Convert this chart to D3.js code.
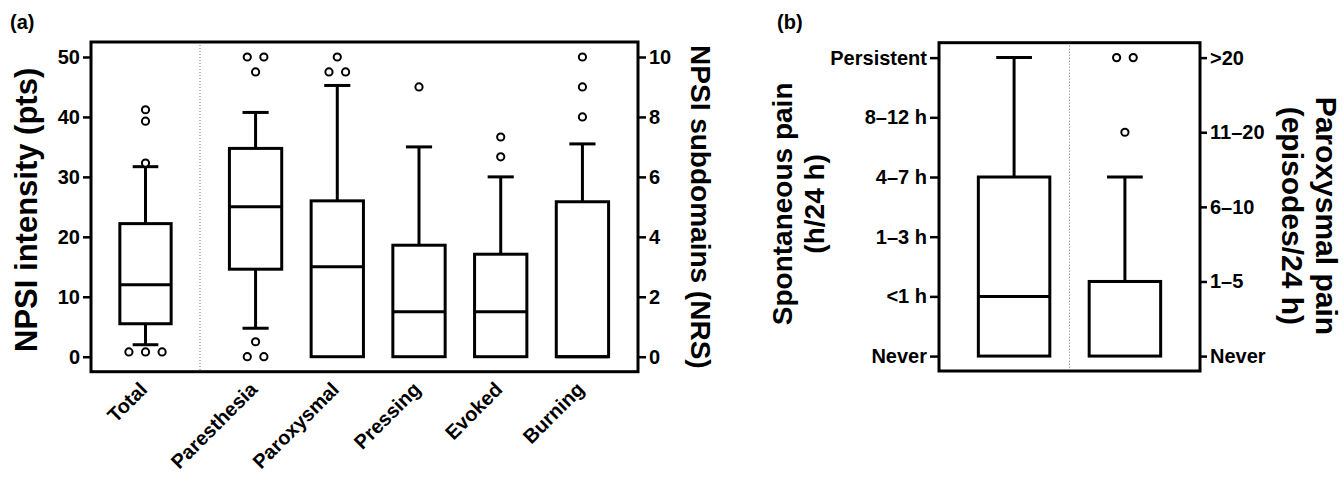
<!DOCTYPE html>
<html>
<head>
<meta charset="utf-8">
<script src="https://cdn.jsdelivr.net/npm/d3@7"></script>
<style>
  body { margin: 0; background: #fff; }
  text { font-family: "Liberation Sans", Arial, sans-serif; font-weight: bold; fill: #000; }
</style>
</head>
<body>
<script>
// panel (a): NPSI total (pts, left axis) and subdomains (NRS, right axis)
var totalCats = ["Total"];
var totalQ1 = [5.5], totalMedian = [12], totalQ3 = [22.2];
var totalWhiskerLo = [2.0], totalWhiskerHi = [31.7];
var totalOutliers = [[41.2, 39.3, 32.3, 0.8, 0.8, 0.8]];

var subCats = ["Paresthesia", "Paroxysmal", "Pressing", "Evoked", "Burning"];
var subQ1 = [2.92, 0, 0, 0, 0];
var subMedian = [5.0, 3.0, 1.5, 1.5, 0];
var subQ3 = [6.95, 5.2, 3.72, 3.42, 5.17];
var subWhiskerLo = [0.95, 0, 0, 0, 0];
var subWhiskerHi = [8.15, 9.05, 7.0, 6.0, 7.1];
var subOutliers = [[10, 10, 9.5, 0.5, 0, 0], [10, 9.5, 9.5], [9], [7.33, 6.67], [10, 9, 8]];

var ptsTicks = [0, 10, 20, 30, 40, 50];
var nrsTicks = [0, 2, 4, 6, 8, 10];

// panel (b): frequency of spontaneous and paroxysmal pain
var freqCats = ["Spontaneous", "Paroxysmal"];
var freqQ1 = [0, 0], freqMedian = [1, 1], freqQ3 = [3, 1];
var freqWhiskerLo = [0, 0], freqWhiskerHi = [5, 2.4];
var freqOutliers = [[], [4, 4, 3]];
var spontTicks = ["Never", "<1 h", "1\u20133 h", "4\u20137 h", "8\u201312 h", "Persistent"];
var paroxTicks = ["Never", "1\u20135", "6\u201310", "11\u201320", ">20"];

var width = 1343, height = 477;
var svg = d3.select("body").append("svg").attr("width", width).attr("height", height);

var lw = 3;

function drawBox(g, cx, bw, y, q1, med, q3, wlo, whi, outl) {
    var cap = bw / 2;
    // whiskers
    g.append("line").attr("x1", cx).attr("x2", cx).attr("y1", y(q3)).attr("y2", y(whi))
        .attr("stroke", "#000").attr("stroke-width", lw);
    g.append("line").attr("x1", cx - cap/2).attr("x2", cx + cap/2).attr("y1", y(whi)).attr("y2", y(whi))
        .attr("stroke", "#000").attr("stroke-width", lw);
    if (wlo < q1) {
        g.append("line").attr("x1", cx).attr("x2", cx).attr("y1", y(q1)).attr("y2", y(wlo))
            .attr("stroke", "#000").attr("stroke-width", lw);
        g.append("line").attr("x1", cx - cap/2).attr("x2", cx + cap/2).attr("y1", y(wlo)).attr("y2", y(wlo))
            .attr("stroke", "#000").attr("stroke-width", lw);
    }
    // box
    g.append("rect").attr("x", cx - bw/2).attr("y", y(q3)).attr("width", bw)
        .attr("height", Math.max(0, y(q1) - y(q3)))
        .attr("fill", "#fff").attr("stroke", "#000").attr("stroke-width", lw);
    g.append("line").attr("x1", cx - bw/2).attr("x2", cx + bw/2).attr("y1", y(med)).attr("y2", y(med))
        .attr("stroke", "#000").attr("stroke-width", lw);
    // outliers, equal values spread side by side
    var counts = {}, seen = {};
    outl.forEach(function(v) { counts[v] = (counts[v] || 0) + 1; });
    outl.forEach(function(v) {
        var i = seen[v] || 0; seen[v] = i + 1;
        var off = (i - (counts[v] - 1) / 2) * 16.6;
        g.append("circle").attr("cx", cx + off).attr("cy", y(v)).attr("r", 3.6)
            .attr("fill", "#fff").attr("stroke", "#000").attr("stroke-width", 2);
    });
}

function styleAxis(ax) {
    ax.select(".domain").remove();
    ax.selectAll(".tick line").attr("stroke", "#000").attr("stroke-width", 2.5);
    ax.selectAll(".tick text").style("font-size", "20px").style("font-weight", "bold")
        .style("font-family", "'Liberation Sans', Arial, sans-serif");
}

// ---------------- panel (a) ----------------
var aL = 91, aR = 638, aT = 42, aB = 371.7, aSplit = 200;
var yPts = d3.scaleLinear().domain([-2.5, 52.5]).range([aB, aT]);
var yNrs = d3.scaleLinear().domain([-0.5, 10.5]).range([aB, aT]);
var xTotal = d3.scaleBand().domain(totalCats).range([aL, aSplit]).padding(0.36);
var xSub = d3.scaleBand().domain(subCats).range([aSplit, aR]).padding(0.36);

var ga = svg.append("g");
ga.append("line").attr("x1", aSplit).attr("x2", aSplit).attr("y1", aT).attr("y2", aB)
    .attr("stroke", "#777").attr("stroke-width", 1).attr("stroke-dasharray", "1,2");

totalCats.forEach(function(c, i) {
    drawBox(ga, xTotal(c) + xTotal.bandwidth()/2, xTotal.bandwidth(), yPts,
        totalQ1[i], totalMedian[i], totalQ3[i], totalWhiskerLo[i], totalWhiskerHi[i], totalOutliers[i]);
});
subCats.forEach(function(c, i) {
    drawBox(ga, xSub(c) + xSub.bandwidth()/2, xSub.bandwidth(), yNrs,
        subQ1[i], subMedian[i], subQ3[i], subWhiskerLo[i], subWhiskerHi[i], subOutliers[i]);
});

ga.append("rect").attr("x", aL).attr("y", aT).attr("width", aR - aL).attr("height", aB - aT)
    .attr("fill", "none").attr("stroke", "#000").attr("stroke-width", lw);

var axL = ga.append("g").attr("transform", "translate(" + aL + ",0)")
    .call(d3.axisLeft(yPts).tickValues(ptsTicks).tickSize(8).tickPadding(3));
styleAxis(axL);
var axR = ga.append("g").attr("transform", "translate(" + aR + ",0)")
    .call(d3.axisRight(yNrs).tickValues(nrsTicks).tickSize(8).tickPadding(3));
styleAxis(axR);

// category labels, rotated
function catLabels(scale) {
    var ax = ga.append("g").attr("transform", "translate(0," + aB + ")")
        .call(d3.axisBottom(scale).tickSize(0));
    ax.select(".domain").remove();
    ax.selectAll(".tick text")
        .attr("x", 0).attr("y", 0).attr("dy", 0)
        .attr("transform", "translate(3,19) rotate(-45)")
        .style("text-anchor", "end")
        .style("font-size", "20px").style("font-weight", "bold")
        .style("font-family", "'Liberation Sans', Arial, sans-serif");
}
catLabels(xTotal);
catLabels(xSub);

ga.append("text").attr("transform", "translate(37," + (aT + aB + 6) / 2 + ") rotate(-90)")
    .attr("text-anchor", "middle").style("font-size", "31px").text("NPSI intensity (pts)");
ga.append("text").attr("transform", "translate(691," + (aT + aB) / 2 + ") rotate(90)")
    .attr("text-anchor", "middle").style("font-size", "28px").text("NPSI subdomains (NRS)");
ga.append("text").attr("x", 10).attr("y", 29).style("font-size", "20px").text("(a)");

// ---------------- panel (b) ----------------
var bL = 939, bR = 1200, bT = 42.7, bB = 371;
var ySpont = d3.scaleLinear().domain([-0.25, 5.25]).range([bB, bT]);
var yParox = d3.scaleLinear().domain([-0.2, 4.2]).range([bB, bT]);
var xFreq = d3.scaleBand().domain(freqCats).range([bL, bR]).padding(0.355);
var gb = svg.append("g");
var bSplit = (xFreq(freqCats[0]) + xFreq(freqCats[1])) / 2 + xFreq.bandwidth() / 2;
gb.append("line").attr("x1", bSplit).attr("x2", bSplit).attr("y1", bT).attr("y2", bB)
    .attr("stroke", "#777").attr("stroke-width", 1).attr("stroke-dasharray", "1,2");

var freqY = [ySpont, yParox];
freqCats.forEach(function(c, i) {
    drawBox(gb, xFreq(c) + xFreq.bandwidth()/2, xFreq.bandwidth(), freqY[i],
        freqQ1[i], freqMedian[i], freqQ3[i], freqWhiskerLo[i], freqWhiskerHi[i], freqOutliers[i]);
});

gb.append("rect").attr("x", bL).attr("y", bT).attr("width", bR - bL).attr("height", bB - bT)
    .attr("fill", "none").attr("stroke", "#000").attr("stroke-width", lw);

var bxL = gb.append("g").attr("transform", "translate(" + bL + ",0)")
    .call(d3.axisLeft(ySpont).tickValues(d3.range(spontTicks.length)).tickSize(9).tickPadding(3)
        .tickFormat(function(d) { return spontTicks[d]; }));
styleAxis(bxL);
var bxR = gb.append("g").attr("transform", "translate(" + bR + ",0)")
    .call(d3.axisRight(yParox).tickValues(d3.range(paroxTicks.length)).tickSize(7).tickPadding(3)
        .tickFormat(function(d) { return paroxTicks[d]; }));
styleAxis(bxR);

var tl = gb.append("text").attr("transform", "translate(798," + (bT + bB - 6) / 2 + ") rotate(-90)")
    .attr("text-anchor", "middle").style("font-size", "28px");
tl.append("tspan").attr("x", 0).attr("dy", "-0.2em").text("Spontaneous pain");
tl.append("tspan").attr("x", 0).attr("dy", "1.12em").text("(h/24 h)");
var tr = gb.append("text").attr("transform", "translate(1310," + (bT + bB + 18) / 2 + ") rotate(90)")
    .attr("text-anchor", "middle").style("font-size", "30px");
tr.append("tspan").attr("x", 0).attr("dy", "-0.2em").text("Paroxysmal pain");
tr.append("tspan").attr("x", 0).attr("dy", "1.12em").text("(episodes/24 h)");
gb.append("text").attr("x", 777).attr("y", 29).style("font-size", "20px").text("(b)");
</script>
</body>
</html>
